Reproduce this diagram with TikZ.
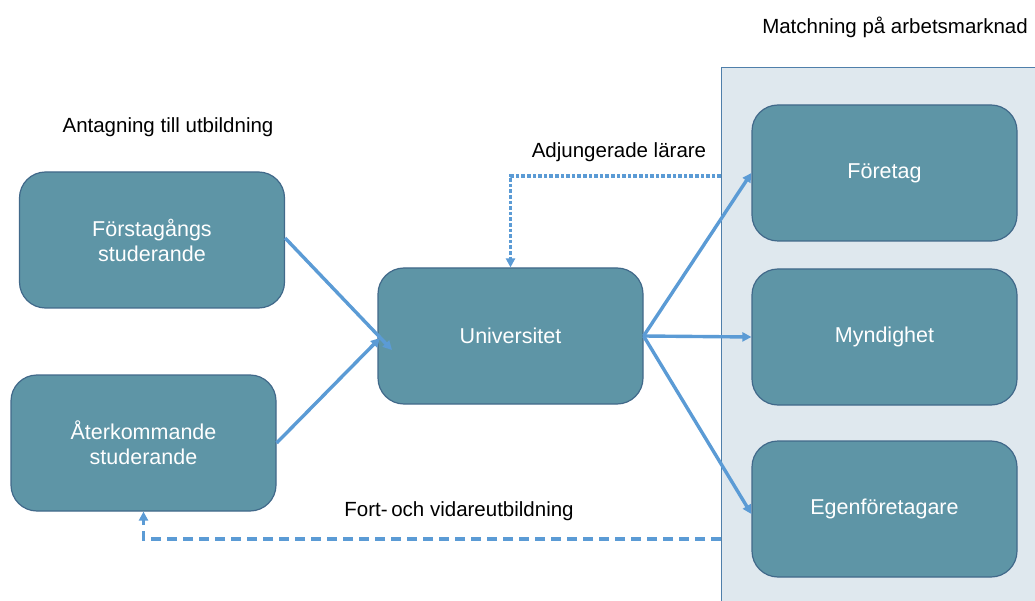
\documentclass[tikz,border=0pt]{standalone}
\usepackage{fontspec}
\setmainfont{Liberation Sans}
\usetikzlibrary{arrows.meta}
\definecolor{boxfill}{HTML}{5E95A6}
\definecolor{boxline}{HTML}{41698A}
\definecolor{panelfill}{HTML}{DFE8EE}
\definecolor{panelline}{HTML}{4F7FAA}
\definecolor{arrowc}{HTML}{5B9BD5}
\tikzset{
  box/.style={draw=boxline, line width=1.2pt, fill=boxfill, rounded corners=26pt,
    minimum width=265pt, minimum height=136pt, inner sep=0pt, align=center,
    text=white, font=\fontsize{21.5}{25}\selectfont},
  lbl/.style={inner sep=0pt, font=\fontsize{20.5}{24}\selectfont},
  conn/.style={draw=arrowc, line width=3.4pt, -{Triangle[length=9pt,width=9pt]}},
  dotconn/.style={draw=arrowc, line width=3.6pt, dash pattern=on 3.6pt off 2pt, -{Triangle[length=9pt,width=9pt]}},
  dashconn/.style={draw=arrowc, line width=3.6pt, dash pattern=on 10pt off 6pt, -{Triangle[length=9pt,width=9pt]}},
}
\begin{document}
\begin{tikzpicture}[x=1pt,y=-1pt]
\useasboundingbox (0,0) rectangle (1035,601);
\node[draw=panelline, line width=1pt, fill=panelfill, minimum width=320pt, minimum height=540pt, inner sep=0pt, anchor=north west] (panel) at (721,67) {};
\node[box] (forst) at (152,240) {Förstagångs\\studerande};
\node[box] (ater) at (143.5,443) {Återkommande\\studerande};
\node[box] (uni) at (510.5,336) {Universitet};
\node[box] (foretag) at (884.5,173) {Företag};
\node[box] (mynd) at (884.5,337) {Myndighet};
\node[box] (egen) at (884.5,509) {Egenföretagare};
\node[lbl] (matchlbl) at (895,27) {Matchning på arbetsmarknad};
\node[lbl] (antlbl) at (168,127) {Antagning till utbildning};
\node[lbl] (adjlbl) at (619,152) {Adjungerade lärare};
\node[lbl] (fortlbl) at (459,511) {Fort-\hspace{-2pt} och vidareutbildning};
\coordinate (uniin1) at (392,350);
\coordinate (uniin2) at (380,338);
\coordinate (dotstart) at (721,176);
\coordinate (dashstart) at (721,539);
\draw[conn] (forst.east) ++(0,-2) -- (uniin1);
\draw[conn] (ater.east) -- (uniin2);
\draw[conn] (uni.east) -- (foretag.west);
\draw[conn] (uni.east) -- (mynd.west);
\draw[conn] (uni.east) -- ([yshift=-5pt]egen.west);
\draw[dotconn] (dotstart) -| (uni.north);
\draw[dashconn] (dashstart) -| (ater.south);
\end{tikzpicture}
\end{document}
